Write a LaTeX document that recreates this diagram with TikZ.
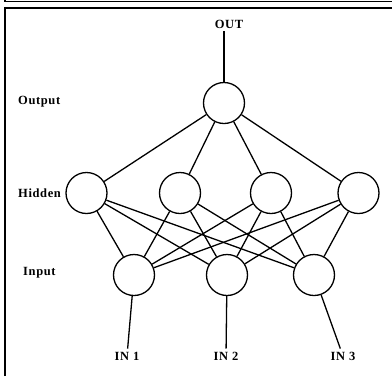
\documentclass[tikz,border=0pt]{standalone}
\usepackage{fontspec}
\setmainfont{Liberation Serif}
\newfontfamily\netfont[LetterSpace=5]{Liberation Serif}
\usetikzlibrary{positioning}

\begin{document}
\begin{tikzpicture}[
    x=1pt, y=-1pt,
    font=\netfont\bfseries\fontsize{12.5}{14}\selectfont,
    % Styles
    neuron/.style={circle, line width=1.3pt, draw=black, fill=white, minimum size=41pt, inner sep=0pt},
    layerlabel/.style={anchor=west, inner sep=0pt},
    iolabel/.style={inner sep=3pt},
    link/.style={line width=1.3pt, -, color=black},
    frame/.style={line width=1.4pt, -, color=black}
]
\useasboundingbox (0,0) rectangle (392,376);

% Frame lines
\draw[frame] (5,0) -- (5,1.5) -- (392,1.5);
\draw[frame] (5,376) -- (5,8) -- (392,8);

% ==========================================================================================
% Layers
% ==========================================================================================

% Output layer
\node[neuron] (out_node) at (224,103) {};
\node[iolabel] (out_label) at (229,24) {OUT};

% Hidden layer
\node[neuron] (hid_1) at (86.5,193) {};
\node[neuron] (hid_2) at (180,193) {};
\node[neuron] (hid_3) at (271,193) {};
\node[neuron] (hid_4) at (358.5,193) {};

% Input layer
\node[neuron] (in_1) at (134,275) {};
\node[neuron] (in_2) at (227,275) {};
\node[neuron] (in_3) at (314,275) {};

% Input labels
\node[iolabel] (in_label_1) at (127,356) {IN 1};
\node[iolabel] (in_label_2) at (226,356) {IN 2};
\node[iolabel] (in_label_3) at (343,356) {IN 3};

% Layer names
\node[layerlabel] (lbl_output) at (18,102) {Output};
\node[layerlabel] (lbl_hidden) at (18,193) {Hidden};
\node[layerlabel] (lbl_input) at (23,273) {Input};

% ==========================================================================================
% Connections
% ==========================================================================================

% Output
\draw[link] (out_label.south -| out_node.north) -- (out_node);
\draw[link] (out_node) -- (hid_1);
\draw[link] (out_node) -- (hid_2);
\draw[link] (out_node) -- (hid_3);
\draw[link] (out_node) -- (hid_4);

% Hidden to input
\draw[link] (hid_1) -- (in_1);
\draw[link] (hid_1) -- (in_2);
\draw[link] (hid_1) -- (in_3);
\draw[link] (hid_2) -- (in_1);
\draw[link] (hid_2) -- (in_2);
\draw[link] (hid_2) -- (in_3);
\draw[link] (hid_3) -- (in_1);
\draw[link] (hid_3) -- (in_2);
\draw[link] (hid_3) -- (in_3);
\draw[link] (hid_4) -- (in_1);
\draw[link] (hid_4) -- (in_2);
\draw[link] (hid_4) -- (in_3);

% Inputs
\draw[link] (in_1) -- (in_label_1);
\draw[link] (in_2) -- (in_label_2);
\draw[link] (in_3) -- (in_label_3);

\end{tikzpicture}
\end{document}
